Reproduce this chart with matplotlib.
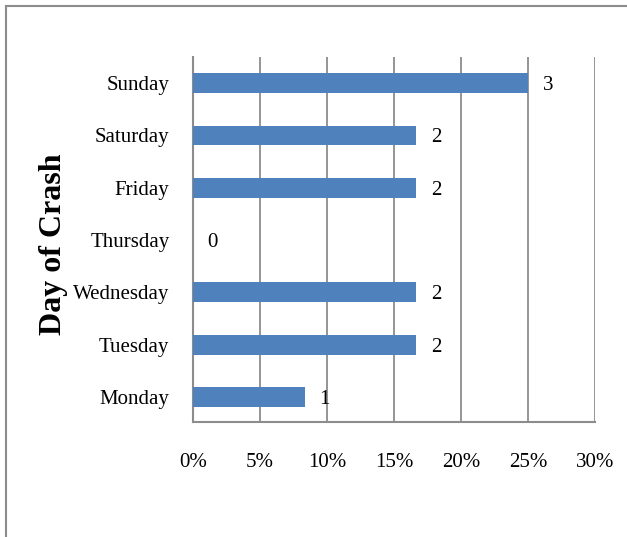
import numpy as np
import matplotlib.pyplot as plt
from matplotlib.patches import Rectangle

# Data
days = ["Monday", "Tuesday", "Wednesday", "Thursday", "Friday", "Saturday", "Sunday"]
counts = [1, 2, 2, 0, 2, 2, 3]
total = sum(counts)
shares = [c / total for c in counts]
xticks = [0, 0.05, 0.10, 0.15, 0.20, 0.25, 0.30]
xtick_labels = ["0%", "5%", "10%", "15%", "20%", "25%", "30%"]

plt.rcParams['font.family'] = ['Liberation Serif', 'DejaVu Serif']

fig = plt.figure(figsize=(6.27, 5.37), dpi=100)
ax = fig.add_axes([193 / 627, 1 - 422 / 537, (595 - 193) / 627, (422 - 57) / 537])

# Outer chart border
fig.patches.append(Rectangle((6 / 627, -0.1), 1.2, (537 - 6) / 537 + 0.1,
                             transform=fig.transFigure, fill=False,
                             edgecolor="#8c8c8c", linewidth=1.5))

y = np.arange(len(days))
ax.barh(y, shares, height=0.38, color="#4F81BD", zorder=3)

for yi, s, c in zip(y, shares, counts):
    ax.text(s + 0.011, yi, str(c), va="center_baseline", ha="left", fontsize=15)

ax.set_xlim(0, 0.30)
ax.set_ylim(-0.48, 6.5)
ax.set_xticks(xticks)
ax.set_xticklabels(xtick_labels, fontsize=15)
ax.set_yticks(y)
ax.set_yticklabels(days, fontsize=15)
ax.grid(axis="x", color="#8c8c8c", linewidth=1.3, zorder=0)
ax.tick_params(axis="both", length=0)
ax.tick_params(axis="x", pad=22)
ax.tick_params(axis="y", pad=17)

for side in ["top", "right"]:
    ax.spines[side].set_visible(False)
for side in ["left", "bottom"]:
    ax.spines[side].set_color("#8c8c8c")
    ax.spines[side].set_linewidth(1.5)

fig.text(53 / 627, 1 - 244 / 537, "Day of Crash", rotation=90, fontsize=23,
         fontweight="bold", ha="center", va="center")

fig.savefig("out.png", dpi=100)
